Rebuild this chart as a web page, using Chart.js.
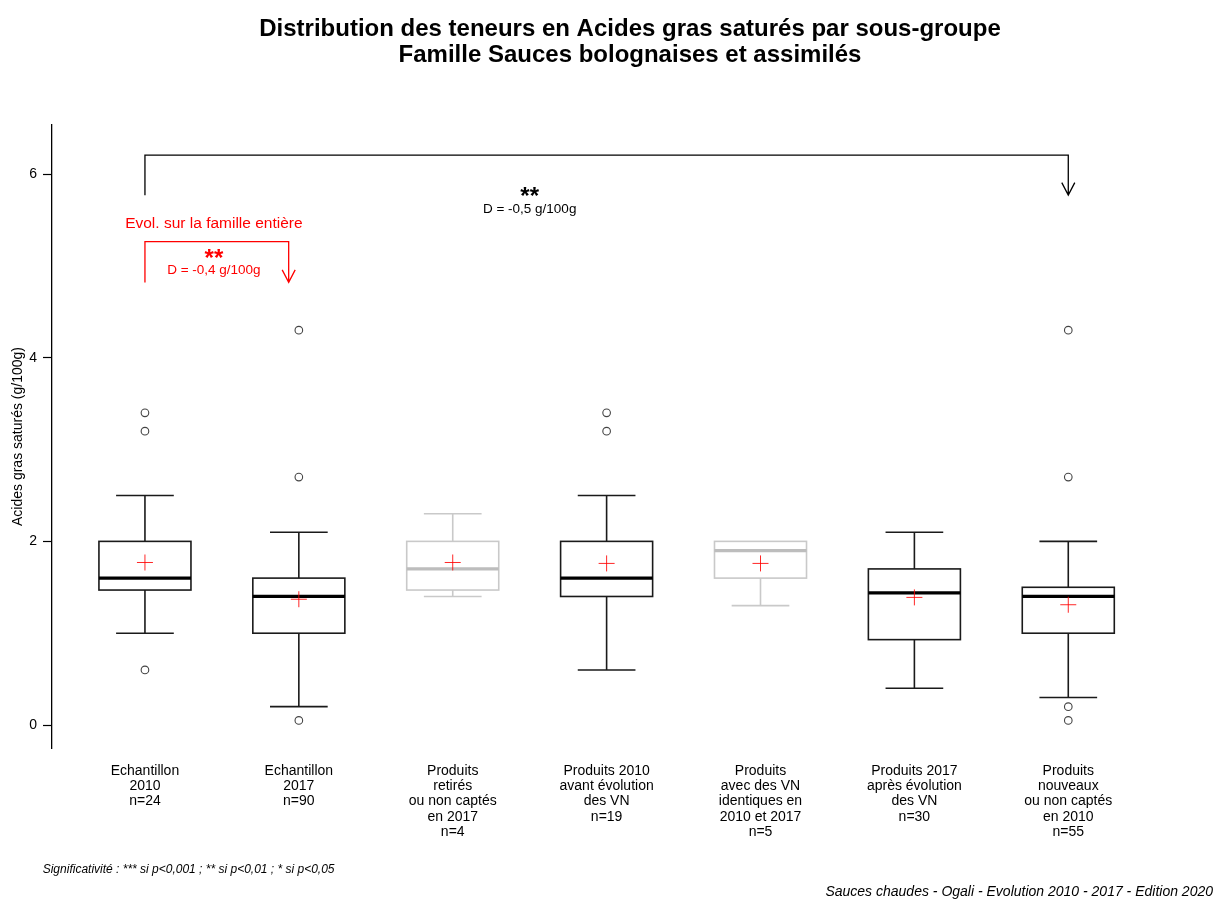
<!DOCTYPE html>
<html lang="fr">
<head>
<meta charset="utf-8">
<title>Acides gras saturés - Sauces bolognaises</title>
<script src="https://cdn.jsdelivr.net/npm/chart.js@4.4.1/dist/chart.umd.min.js"></script>
<style>
  html, body { margin: 0; padding: 0; background: #fff; }
  canvas { display: block; }
</style>
</head>
<body>
<canvas id="boxChart" width="1216" height="900"></canvas>
<script>
// ====================================================
// Données
// ====================================================
const GROUPS = [
  ["Echantillon", "2010"],
  ["Echantillon", "2017"],
  ["Produits", "retirés", "ou non captés", "en 2017"],
  ["Produits 2010", "avant évolution", "des VN"],
  ["Produits", "avec des VN", "identiques en", "2010 et 2017"],
  ["Produits 2017", "après évolution", "des VN"],
  ["Produits", "nouveaux", "ou non captés", "en 2010"],
];
const N_COUNTS = [24, 90, 4, 19, 5, 30, 55];

const WHISKER_LOW  = [1.0, 0.2, 1.4, 0.6, 1.3, 0.4, 0.3];
const Q1           = [1.47, 1.0, 1.47, 1.4, 1.6, 0.93, 1.0];
const MEDIAN       = [1.6, 1.4, 1.7, 1.6, 1.9, 1.44, 1.4];
const Q3           = [2.0, 1.6, 2.0, 2.0, 2.0, 1.7, 1.5];
const WHISKER_HIGH = [2.5, 2.1, 2.3, 2.5, 2.0, 2.1, 2.0];
const MEANS        = [1.77, 1.37, 1.77, 1.76, 1.76, 1.39, 1.31];
const OUTLIERS = [
  [3.4, 3.2, 0.6],
  [4.3, 2.7, 0.05],
  [],
  [3.4, 3.2],
  [],
  [],
  [4.3, 2.7, 0.2, 0.05],
];
// sous-groupes grisés (petits effectifs)
const GREYED = [false, false, true, false, true, false, false];

const Y_TICKS = [0, 2, 4, 6];

// tests d'évolution : [groupe départ, groupe arrivée, étoiles, texte]
const TEST_ALL = [1, 7, "**", "D = -0,5 g/100g"];
const TEST_FAMILY = [1, 1.934, "**", "D = -0,4 g/100g"];

// ====================================================
// Réglages
// ====================================================
const FONT = '"Liberation Sans", Arial, Helvetica, sans-serif';
Chart.defaults.font.family = FONT;
Chart.defaults.color = "#000";

const X_MIN = 0.396, X_MAX = 7.7;
const Y_MIN = -0.25, Y_MAX = 6.534;
const BOX_HALF = 0.299;   // demi-largeur des boîtes (unités x)
const CAP_HALF = 0.1875;  // demi-largeur des moustaches

const labels = GROUPS.map((g, i) => [...g, "n=" + N_COUNTS[i]]);

const outlierPoints = [];
OUTLIERS.forEach((vals, i) => vals.forEach(v => outlierPoints.push({ x: i + 1, y: v })));
const meanPoints = MEANS.map((m, i) => ({ x: i + 1, y: m }));

// ====================================================
// Dessine les boîtes à moustaches
// ====================================================
const boxPlugin = {
  id: "boites",
  beforeDatasetsDraw(chart) {
    const { ctx, scales: { x, y } } = chart;
    ctx.save();
    ctx.lineCap = "butt";
    GROUPS.forEach((_, i) => {
      const cx = x.getPixelForValue(i + 1);
      const hw = x.getPixelForValue(i + 1 + BOX_HALF) - cx;
      const cw = x.getPixelForValue(i + 1 + CAP_HALF) - cx;
      const col = GREYED[i] ? "#c9c9c9" : "#1a1a1a";
      const yLo = y.getPixelForValue(WHISKER_LOW[i]);
      const yQ1 = y.getPixelForValue(Q1[i]);
      const yMed = y.getPixelForValue(MEDIAN[i]);
      const yQ3 = y.getPixelForValue(Q3[i]);
      const yHi = y.getPixelForValue(WHISKER_HIGH[i]);

      ctx.strokeStyle = col;
      ctx.lineWidth = 1.6;
      ctx.beginPath();
      // moustaches
      ctx.moveTo(cx, yQ3); ctx.lineTo(cx, yHi);
      ctx.moveTo(cx, yQ1); ctx.lineTo(cx, yLo);
      if (WHISKER_HIGH[i] > Q3[i]) { ctx.moveTo(cx - cw, yHi); ctx.lineTo(cx + cw, yHi); }
      ctx.moveTo(cx - cw, yLo); ctx.lineTo(cx + cw, yLo);
      ctx.stroke();

      // boîte
      ctx.strokeRect(cx - hw, yQ3, 2 * hw, yQ1 - yQ3);

      // médiane
      ctx.strokeStyle = GREYED[i] ? "#bdbdbd" : "#000";
      ctx.lineWidth = 3.2;
      ctx.beginPath();
      ctx.moveTo(cx - hw, yMed); ctx.lineTo(cx + hw, yMed);
      ctx.stroke();
    });
    ctx.restore();
  },
};

// ====================================================
// Titres, tests et mentions
// ====================================================
function drawBracket(ctx, x, y, test, yTop, yBottom, color) {
  const x0 = x.getPixelForValue(test[0]);
  const x1 = x.getPixelForValue(test[1]);
  const top = y.getPixelForValue(yTop);
  const bottom = y.getPixelForValue(yBottom);
  ctx.strokeStyle = color;
  ctx.lineWidth = 1.3;
  ctx.beginPath();
  ctx.moveTo(x0, bottom);
  ctx.lineTo(x0, top);
  ctx.lineTo(x1, top);
  ctx.lineTo(x1, bottom);
  // pointe de flèche
  ctx.moveTo(x1 - 6.5, bottom - 12.5);
  ctx.lineTo(x1, bottom);
  ctx.lineTo(x1 + 6.5, bottom - 12.5);
  ctx.stroke();
}

function drawText(ctx, str, px, py, font, color, align) {
  ctx.font = font;
  ctx.fillStyle = color;
  ctx.textAlign = align || "center";
  ctx.textBaseline = "alphabetic";
  ctx.fillText(str, px, py);
}

const annotationPlugin = {
  id: "annotations",
  afterDraw(chart) {
    const { ctx, scales: { x, y } } = chart;
    ctx.save();

    // titre
    drawText(ctx, "Distribution des teneurs en Acides gras saturés par sous-groupe", 630, 35.7, `bold 24px ${FONT}`, "#000");
    drawText(ctx, "Famille Sauces bolognaises et assimilés", 630, 62.2, `bold 24px ${FONT}`, "#000");

    // test sur l'échantillon complet
    drawBracket(ctx, x, y, TEST_ALL, 6.207, 5.77, "#000");
    const midAll = x.getPixelForValue(3.5);
    drawText(ctx, TEST_ALL[2], midAll, y.getPixelForValue(5.677), `bold 24px ${FONT}`, "#000");
    drawText(ctx, TEST_ALL[3], midAll, y.getPixelForValue(5.579), `13.5px ${FONT}`, "#000");

    // test sur la famille entière
    const midFam = x.getPixelForValue(1.448);
    drawText(ctx, "Evol. sur la famille entière", midFam, y.getPixelForValue(5.409), `15.5px ${FONT}`, "#ff0000");
    drawBracket(ctx, x, y, TEST_FAMILY, 5.263, 4.82, "#ff0000");
    drawText(ctx, TEST_FAMILY[2], midFam, y.getPixelForValue(5.0), `bold 24px ${FONT}`, "#ff0000");
    drawText(ctx, TEST_FAMILY[3], midFam, y.getPixelForValue(4.911), `13.5px ${FONT}`, "#ff0000");

    // mentions bas de page
    drawText(ctx, "Significativité : *** si p<0,001 ; ** si p<0,01 ; * si p<0,05", 42.7, 873.3, `italic 12px ${FONT}`, "#000", "left");
    drawText(ctx, "Sauces chaudes - Ogali - Evolution 2010 - 2017 - Edition 2020", 1213, 895.5, `italic 14px ${FONT}`, "#000", "right");

    ctx.restore();
  },
};

// ====================================================
// Graphique
// ====================================================
const ctx = document.getElementById("boxChart").getContext("2d");
new Chart(ctx, {
  type: "scatter",
  data: {
    datasets: [
      {
        label: "Valeurs atypiques",
        data: outlierPoints,
        pointStyle: "circle",
        pointRadius: 3.8,
        pointHoverRadius: 3.8,
        pointBorderWidth: 1.1,
        pointBorderColor: "#444",
        pointBackgroundColor: "rgba(0,0,0,0)",
      },
      {
        label: "Moyenne",
        data: meanPoints,
        pointStyle: "cross",
        pointRadius: 8,
        pointHoverRadius: 8,
        pointBorderWidth: 1,
        pointBorderColor: "rgba(255,0,0,0.85)",
      },
    ],
  },
  options: {
    responsive: false,
    animation: false,
    layout: { padding: { top: 125, left: 0, right: 40, bottom: 0 } },
    plugins: {
      legend: { display: false },
      tooltip: { enabled: false },
    },
    scales: {
      x: {
        type: "linear",
        min: X_MIN,
        max: X_MAX,
        afterBuildTicks: (s) => { s.ticks = GROUPS.map((_, i) => ({ value: i + 1 })); },
        afterFit: (s) => { s.height = 152; },
        ticks: {
          autoSkip: false,
          maxRotation: 0,
          padding: 7,
          color: "#000",
          font: { size: 14, lineHeight: 1.1 },
          callback: (v) => labels[v - 1],
        },
        grid: { display: false },
        border: { display: false },
      },
      y: {
        min: Y_MIN,
        max: Y_MAX,
        afterBuildTicks: (s) => { s.ticks = Y_TICKS.map(v => ({ value: v })); },
        afterFit: (s) => { s.width = 52; },
        ticks: { padding: 6, color: "#000", font: { size: 14 } },
        grid: { drawOnChartArea: false, drawTicks: true, tickLength: 9, tickColor: "#000", tickWidth: 1.2 },
        border: { display: true, color: "#000", width: 1.3 },
        title: {
          display: true,
          text: "Acides gras saturés (g/100g)",
          color: "#000",
          font: { size: 14 },
          padding: { top: 10, bottom: 0 },
        },
      },
    },
  },
  plugins: [boxPlugin, annotationPlugin],
});
</script>
</body>
</html>
